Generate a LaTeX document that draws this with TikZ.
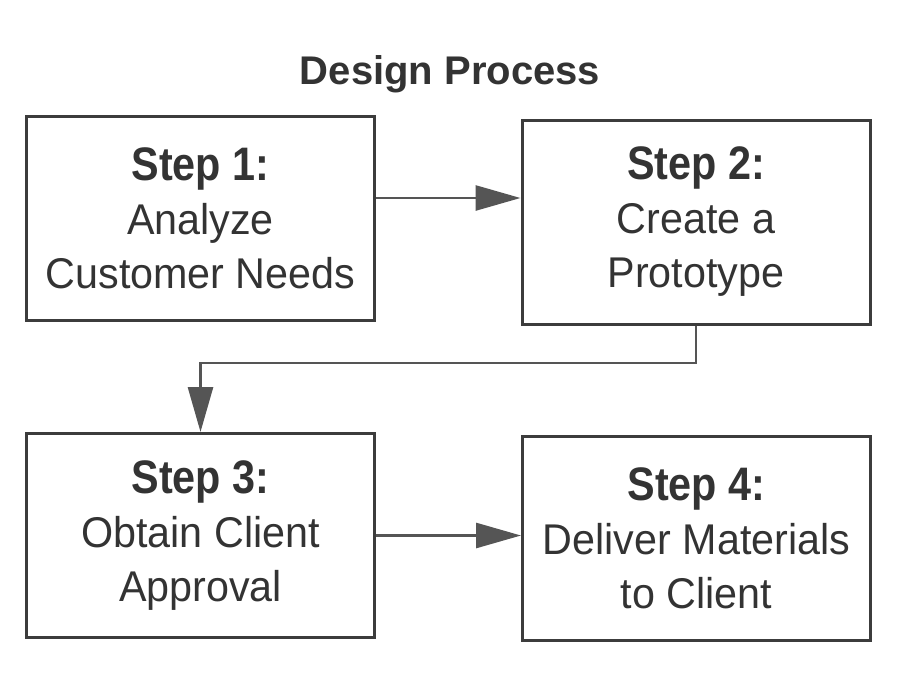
\documentclass[tikz,border=0pt]{standalone}
\usepackage{fontspec}
\setmainfont{Liberation Sans}
\newfontfamily\bodyfont{Liberation Sans}[FakeStretch=0.96]
\newfontfamily\stepfont{Liberation Sans}[FakeStretch=0.88]
\usetikzlibrary{arrows.meta}
\definecolor{inkc}{HTML}{333333}
\definecolor{linec}{HTML}{3C3C3C}
\definecolor{arrc}{HTML}{555555}
\tikzset{
  stepbox/.style={draw=linec, line width=3pt, minimum width=348pt, minimum height=204pt,
    inner sep=0pt, align=center, text=inkc, font=\bodyfont\fontsize{43}{54}\selectfont},
  flow/.style={draw=arrc, line width=2.8pt, -{Triangle[length=45pt,width=25pt,fill=arrc]}},
  titletext/.style={text=inkc, font=\fontsize{40}{48}\selectfont\bfseries, inner sep=0pt, anchor=base}
}
\newcommand{\stephead}[1]{{\stepfont\bfseries\fontsize{47}{54}\selectfont #1}}
\begin{document}
\begin{tikzpicture}[x=1pt,y=-1pt]
\useasboundingbox (0,0) rectangle (908,686);
\node[titletext] (title) at (450,84) {Design Process};
\node[stepbox] (b1) at (200.5,218) {\stephead{Step 1:}\\Analyze\\Customer Needs};
\node[stepbox] (b2) at (696,222) {\stephead{Step 2:}\\Create a\\Prototype};
\node[stepbox] (b3) at (200.5,535.5) {\stephead{Step 3:}\\Obtain Client\\Approval};
\node[stepbox] (b4) at (696.5,538) {\stephead{Step 4:}\\Deliver Materials\\to Client};
\coordinate (r12) at (0,198);
\coordinate (r23) at (0,363);
\draw[flow] (b1.east |- r12) -- (b2.west |- r12);
\draw[flow] (b2.south) -- (b2.south |- r23) -| (b3.north);
\draw[flow] (b3.east) -- (b3.east -| b4.west);
\end{tikzpicture}
\end{document}
